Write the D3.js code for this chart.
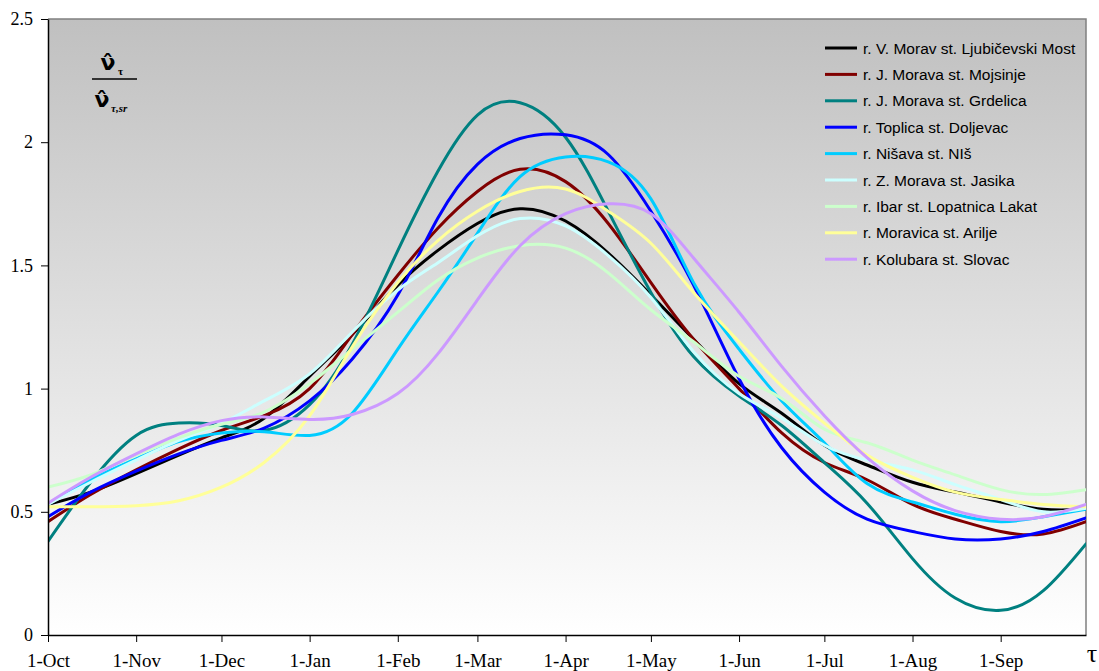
<!DOCTYPE html>
<html>
<head>
<meta charset="utf-8">
<script src="https://cdn.jsdelivr.net/npm/d3@7"></script>
<style>
  html, body { margin: 0; padding: 0; background: #ffffff; }
  svg { display: block; }
</style>
</head>
<body>
<svg id="chart" width="1099" height="671"></svg>
<script>
// ---- data -------------------------------------------------------------
const sampleDates = [
  "2000-10-01","2000-10-16","2000-11-01","2000-11-16","2000-12-01","2000-12-16",
  "2001-01-01","2001-01-16","2001-02-01","2001-02-15","2001-03-01","2001-03-16",
  "2001-04-01","2001-04-16","2001-05-01","2001-05-16","2001-06-01","2001-06-16",
  "2001-07-01","2001-07-16","2001-08-01","2001-08-16","2001-09-01","2001-09-16",
  "2001-10-01"
];

const seriesNames = [
  "r. V. Morav st. Ljubičevski Most",
  "r. J. Morava st. Mojsinje",
  "r. J. Morava st. Grdelica",
  "r. Toplica st. Doljevac",
  "r. Nišava st. NIš",
  "r. Z. Morava st. Jasika",
  "r. Ibar st. Lopatnica Lakat",
  "r. Moravica st. Arilje",
  "r. Kolubara st. Slovac"
];

const seriesColors = ["#000000","#800000","#008080","#0000ff","#00ccff","#ccffff","#ccffcc","#ffff99","#cc99ff"];

const ljubicevskiMost = [0.53,0.58,0.655,0.73,0.80,0.88,1.05,1.22,1.42,1.56,1.67,1.73,1.68,1.55,1.38,1.20,1.02,0.90,0.77,0.69,0.62,0.58,0.54,0.51,0.51];
const mojsinje        = [0.46,0.57,0.67,0.755,0.83,0.89,1.00,1.22,1.46,1.65,1.80,1.89,1.84,1.67,1.43,1.20,1.00,0.82,0.70,0.63,0.53,0.47,0.42,0.41,0.46];
const grdelica        = [0.38,0.62,0.81,0.86,0.85,0.83,0.935,1.18,1.56,1.88,2.11,2.16,2.02,1.72,1.39,1.13,0.97,0.85,0.70,0.535,0.31,0.15,0.10,0.18,0.37];
const doljevac        = [0.48,0.58,0.665,0.735,0.79,0.84,0.95,1.12,1.38,1.69,1.91,2.015,2.03,1.95,1.72,1.42,1.04,0.76,0.58,0.47,0.42,0.39,0.39,0.42,0.475];
const nis             = [0.53,0.63,0.715,0.785,0.82,0.825,0.81,0.90,1.16,1.39,1.63,1.86,1.94,1.92,1.77,1.43,1.16,0.95,0.78,0.615,0.54,0.49,0.46,0.48,0.51];
const jasika          = [0.53,0.62,0.71,0.79,0.86,0.95,1.06,1.23,1.40,1.51,1.62,1.69,1.66,1.54,1.37,1.15,0.98,0.88,0.77,0.71,0.67,0.61,0.55,0.50,0.515];
const lopatnicaLakat  = [0.60,0.65,0.73,0.80,0.855,0.905,1.02,1.16,1.31,1.44,1.53,1.58,1.57,1.47,1.32,1.19,1.05,0.96,0.835,0.78,0.71,0.65,0.59,0.57,0.59];
const arilje          = [0.52,0.52,0.525,0.545,0.60,0.70,0.89,1.17,1.43,1.60,1.72,1.80,1.81,1.72,1.59,1.39,1.19,1.01,0.86,0.73,0.64,0.58,0.55,0.53,0.52];
const slovac          = [0.535,0.64,0.735,0.815,0.87,0.885,0.875,0.895,0.98,1.14,1.36,1.58,1.71,1.75,1.71,1.53,1.31,1.09,0.89,0.72,0.585,0.505,0.47,0.48,0.53];

const seriesValues = [ljubicevskiMost, mojsinje, grdelica, doljevac, nis, jasika, lopatnicaLakat, arilje, slovac];

const yTicks = [0, 0.5, 1, 1.5, 2, 2.5];
const xTickDates = ["2000-10-01","2000-11-01","2000-12-01","2001-01-01","2001-02-01","2001-03-01",
                    "2001-04-01","2001-05-01","2001-06-01","2001-07-01","2001-08-01","2001-09-01"];

// ---- layout -----------------------------------------------------------
const parse = d3.timeParse("%Y-%m-%d");
const plotLeft = 48, plotRight = 1086, plotTop = 19, plotBottom = 635;

const svg = d3.select("#chart");

const x = d3.scaleTime()
  .domain([parse("2000-10-01"), parse("2001-10-01")])
  .range([plotLeft, plotRight]);
const y = d3.scaleLinear().domain([0, 2.5]).range([plotBottom, plotTop]);

// background gradient
const defs = svg.append("defs");
const grad = defs.append("linearGradient")
  .attr("id", "bg").attr("x1", 0).attr("y1", 0).attr("x2", 0).attr("y2", 1);
grad.append("stop").attr("offset", "0%").attr("stop-color", "#c0c0c0");
grad.append("stop").attr("offset", "100%").attr("stop-color", "#ffffff");

svg.append("rect")
  .attr("x", plotLeft).attr("y", plotTop)
  .attr("width", plotRight - plotLeft).attr("height", plotBottom - plotTop)
  .attr("fill", "url(#bg)");

// top/right border
svg.append("path")
  .attr("d", `M${plotLeft},${plotTop}H${plotRight}V${plotBottom}`)
  .attr("fill", "none").attr("stroke", "#808080").attr("stroke-width", 1.5);

// clip
defs.append("clipPath").attr("id", "plotclip")
  .append("rect").attr("x", plotLeft).attr("y", plotTop)
  .attr("width", plotRight - plotLeft).attr("height", plotBottom - plotTop);

// lines
const line = d3.line()
  .x((d, i) => x(parse(sampleDates[i])))
  .y(d => y(d))
  .curve(d3.curveNatural);

const lineG = svg.append("g").attr("clip-path", "url(#plotclip)");
seriesValues.forEach((vals, k) => {
  lineG.append("path")
    .attr("d", line(vals))
    .attr("fill", "none")
    .attr("stroke", seriesColors[k])
    .attr("stroke-width", 3)
    .attr("stroke-linejoin", "round")
    .attr("stroke-linecap", "round");
});

// axes
const yAxis = d3.axisLeft(y)
  .tickValues(yTicks)
  .tickSize(7).tickSizeOuter(0).tickPadding(8)
  .tickFormat(d => String(d));
const gy = svg.append("g").attr("transform", `translate(${plotLeft},0)`).call(yAxis);
gy.select(".domain").attr("stroke", "#000").attr("stroke-width", 1.5);
gy.selectAll(".tick line").attr("stroke", "#000");
gy.selectAll("text")
  .attr("font-family", "'Liberation Serif', 'Times New Roman', serif")
  .attr("font-size", 18).attr("fill", "#000");

const xAxis = d3.axisBottom(x)
  .tickValues(xTickDates.map(parse))
  .tickSize(7).tickSizeOuter(0).tickPadding(12)
  .tickFormat(d3.timeFormat("%-d-%b"));
const gx = svg.append("g").attr("transform", `translate(0,${plotBottom})`).call(xAxis);
gx.select(".domain").attr("stroke", "#000").attr("stroke-width", 1.5);
gx.selectAll(".tick line").attr("stroke", "#000");
gx.selectAll("text")
  .attr("font-family", "'Liberation Serif', 'Times New Roman', serif")
  .attr("font-size", 19).attr("fill", "#000");

// tau axis label
svg.append("text")
  .attr("x", 1092).attr("y", 662)
  .attr("text-anchor", "middle")
  .attr("font-family", "'Liberation Serif', 'DejaVu Serif', serif")
  .attr("font-size", 26)
  .text("τ");

// y-axis formula label
const f = svg.append("g").attr("font-weight", "bold");
f.append("text").attr("x", 108).attr("y", 70).attr("text-anchor", "middle")
  .attr("font-family", "'DejaVu Sans', sans-serif").attr("font-size", 22).text("ν\u0302");
f.append("text").attr("x", 118).attr("y", 75).attr("font-family", "'Liberation Serif', serif").attr("font-size", 11).text("τ");
svg.append("line").attr("x1", 92).attr("x2", 137).attr("y1", 79).attr("y2", 79).attr("stroke", "#000").attr("stroke-width", 1.5);
f.append("text").attr("x", 102).attr("y", 107).attr("text-anchor", "middle")
  .attr("font-family", "'DejaVu Sans', sans-serif").attr("font-size", 22).text("ν\u0302");
f.append("text").attr("x", 111).attr("y", 112).attr("font-family", "'Liberation Serif', serif")
  .attr("font-size", 11).attr("font-style", "italic").text("τ,sr");

// legend
const legendTop = 48, legendStep = 26.4;
const lg = svg.append("g");
seriesNames.forEach((name, k) => {
  const ly = legendTop + k * legendStep;
  lg.append("line")
    .attr("x1", 825).attr("x2", 857).attr("y1", ly).attr("y2", ly)
    .attr("stroke", seriesColors[k]).attr("stroke-width", 3);
  lg.append("text")
    .attr("x", 863).attr("y", ly + 5.5)
    .attr("font-family", "'Liberation Sans', Arial, sans-serif")
    .attr("font-size", 15.5).attr("fill", "#000")
    .text(name);
});
</script>
</body>
</html>
